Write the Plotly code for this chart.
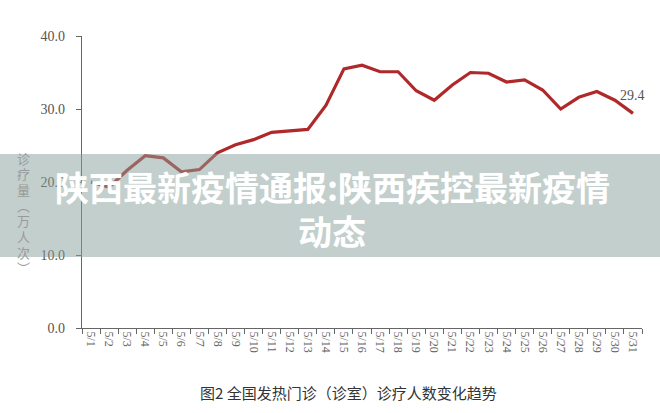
import plotly.graph_objects as go

dates = [f"5/{d}" for d in range(1, 32)]
visits = [20.0, 19.3, 21.6, 23.6, 23.3, 21.4, 21.7, 24.0, 25.1, 25.8,
          26.8, 27.0, 27.2, 30.5, 35.5, 36.0, 35.1, 35.1, 32.5, 31.2,
          33.3, 35.0, 34.9, 33.7, 34.0, 32.6, 30.0, 31.6, 32.4, 31.2, 29.4]
y_ticks = [0, 10, 20, 30, 40]
y_tick_text = ["0.0", "10.0", "20.0", "30.0", "40.0"]
y_title = "诊疗量︵万人次︶"
caption = "图2 全国发热门诊（诊室）诊疗人数变化趋势"
banner_line1 = "陕西最新疫情通报:陕西疾控最新疫情"
banner_line2 = "动态"

serif = "Liberation Serif, Times New Roman, serif"
cjk = "Noto Sans CJK SC, sans-serif"

L, T, PW, PH = 82, 36, 560, 292


def px(xp):
    return (xp - L) / PW


def py(yp):
    return (T + PH - yp) / PH


fig = go.Figure()
fig.add_trace(go.Scatter(
    x=dates, y=visits, mode="lines",
    line=dict(color="#b0292a", width=3.2),
    hoverinfo="skip", showlegend=False,
))

# last value label
fig.add_annotation(x=dates[-1], y=visits[-1], text=f"{visits[-1]:.1f}",
                   showarrow=False, xanchor="center", yanchor="bottom",
                   yshift=8, font=dict(family=serif, size=14, color="#555"))

fig.update_layout(
    width=660, height=413,
    margin=dict(l=L, r=660 - L - PW, t=T, b=413 - T - PH, autoexpand=False),
    paper_bgcolor="white", plot_bgcolor="white",
    xaxis=dict(
        type="category", categoryorder="array", categoryarray=dates,
        range=[-0.5, len(dates) - 0.5],
        tickson="boundaries", ticks="outside", ticklen=5, tickwidth=1,
        tickcolor="#666", showline=True, linecolor="#666", linewidth=1.2,
        showgrid=False, zeroline=False, tickangle=90, automargin=False,
        tickfont=dict(family=serif, size=12, color="#666"),
        fixedrange=True,
    ),
    yaxis=dict(
        range=[0, 40], tickvals=y_ticks, ticktext=y_tick_text,
        ticks="outside", ticklen=5, tickwidth=1, tickcolor="#666",
        showline=True, linecolor="#666", linewidth=1.2, automargin=False,
        showgrid=False, zeroline=False,
        tickfont=dict(family=serif, size=14, color="#555"),
        ticklabelstandoff=8,
    ),
)

# vertical y-axis title (stacked characters)
for i, ch in enumerate(y_title):
    fig.add_annotation(xref="paper", yref="paper", x=px(23),
                       y=py(158 + i * 15.7), text=ch, showarrow=False,
                       xanchor="center", yanchor="middle",
                       font=dict(family=cjk, size=13, color="#9a9a9a"))

# caption
fig.add_annotation(xref="paper", yref="paper", x=px(348), y=py(392),
                   text=caption, showarrow=False,
                   xanchor="center", yanchor="middle",
                   font=dict(family=cjk, size=15, color="#333"))

# translucent banner overlay
fig.add_shape(type="rect", xref="paper", yref="paper", layer="above",
              x0=px(0), x1=px(660), y0=py(257), y1=py(154),
              fillcolor="rgba(135,160,154,0.5)", line=dict(width=0))

fig.add_annotation(xref="paper", yref="paper", x=px(332), y=py(186),
                   text=f"<b>{banner_line1}</b>",
                   showarrow=False, xanchor="center", yanchor="middle",
                   font=dict(family=cjk, size=34, color="white"))
fig.add_annotation(xref="paper", yref="paper", x=px(332), y=py(230),
                   text=f"<b>{banner_line2}</b>",
                   showarrow=False, xanchor="center", yanchor="middle",
                   font=dict(family=cjk, size=34, color="white"))

fig.write_html("out.html",
               config={"displayModeBar": False},
               post_script="document.body.style.margin='0';"
                           "document.body.style.overflow='hidden';")
